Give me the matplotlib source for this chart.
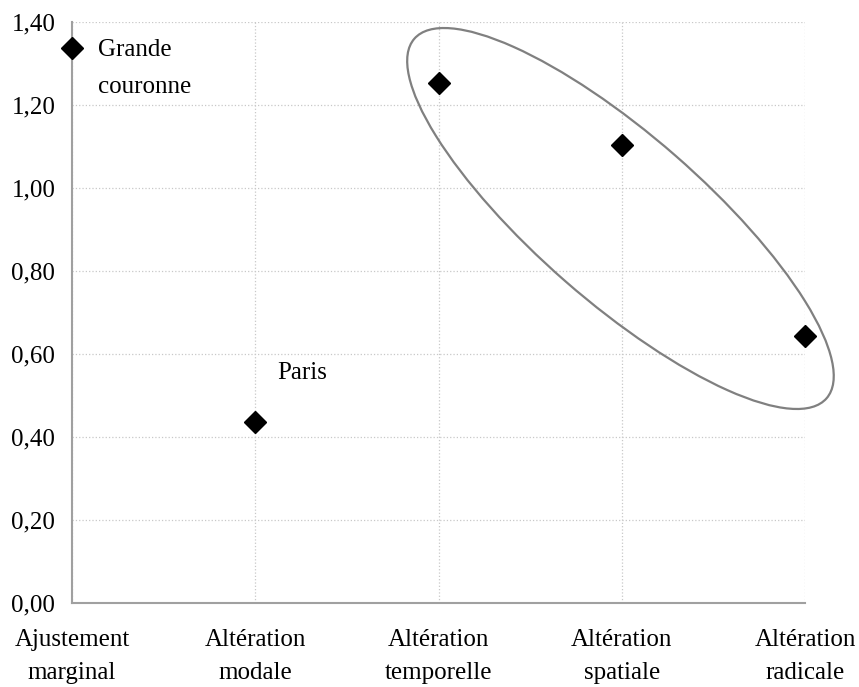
import matplotlib.pyplot as plt
from matplotlib.patches import Ellipse
from matplotlib.transforms import ScaledTranslation

categories = ['Ajustement\nmarginal', 'Altération\nmodale', 'Altération\ntemporelle',
              'Altération\nspatiale', 'Altération\nradicale']
values = [1.337, 0.436, 1.253, 1.104, 0.643]
yticks = [0.0, 0.2, 0.4, 0.6, 0.8, 1.0, 1.2, 1.4]

plt.rcParams['font.family'] = ['Liberation Serif', 'DejaVu Serif']

fig = plt.figure(figsize=(8.59, 6.87), dpi=100)
ax = fig.add_axes([72/859, 84/687, 733/859, 581/687])

x = list(range(len(categories)))
ax.plot(x, values, linestyle='none', marker='D', markersize=11,
        color='black', zorder=5, clip_on=False)

ax.set_xlim(0, 4)
ax.set_ylim(0, 1.4)
ax.set_xticks(x)
ax.set_xticklabels(categories, fontsize=18, linespacing=1.62)
ax.set_yticks(yticks)
ax.set_yticklabels([f'{v:.2f}'.replace('.', ',') for v in yticks], fontsize=18)
ax.tick_params(axis='x', length=0, pad=19)
ax.tick_params(axis='y', length=0, pad=12)

ax.grid(True, color='#c8c8c8', linestyle=':', linewidth=0.9)
for s in ['top', 'right']:
    ax.spines[s].set_visible(False)
for s in ['left', 'bottom']:
    ax.spines[s].set_color('#a0a0a0')
    ax.spines[s].set_linewidth(1.5)
ax.set_axisbelow(True)

# ellipse around the three last points (size in inches)
trans = fig.dpi_scale_trans + ScaledTranslation(2.993, 0.9265, ax.transData)
ell = Ellipse((0, 0), width=5.47, height=1.67, angle=-41.1, transform=trans,
              fill=False, edgecolor='#808080', linewidth=1.6, clip_on=False)
ax.add_patch(ell)

ax.text(0.14, 1.332, 'Grande', fontsize=18, va='center', ha='left')
ax.text(0.14, 1.243, 'couronne', fontsize=18, va='center', ha='left')
ax.text(1.12, 0.555, 'Paris', fontsize=18, va='center', ha='left')

fig.savefig('out.png', dpi=100)
